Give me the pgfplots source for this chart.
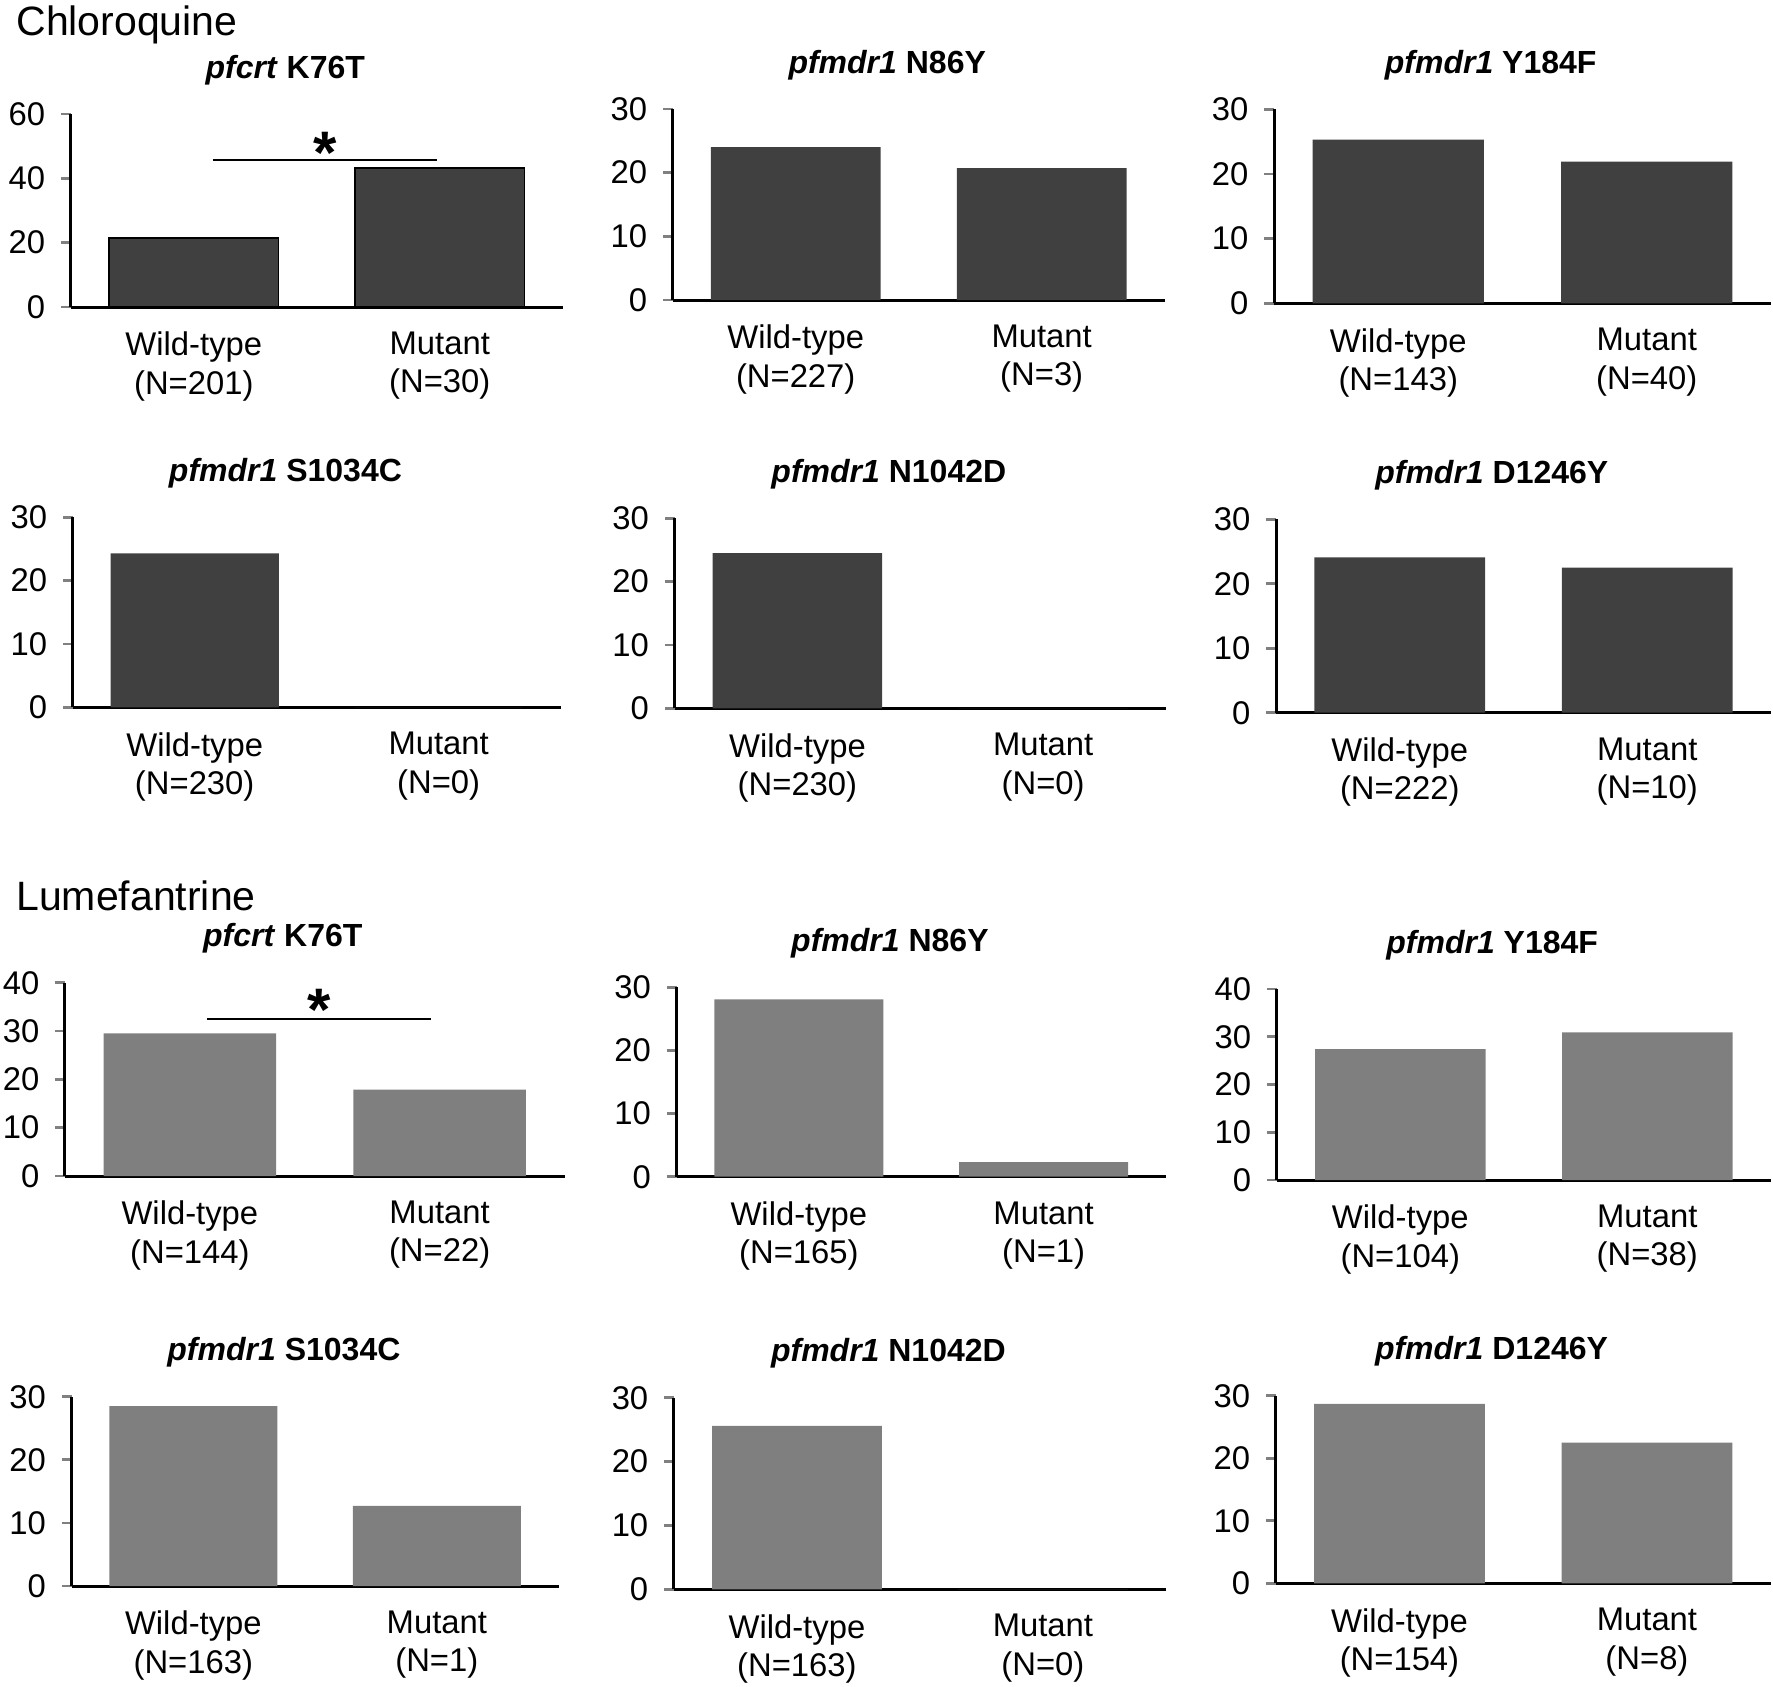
\documentclass[border=0pt]{standalone}
\usepackage{fontspec}
\setmainfont{Liberation Sans}
\usepackage{pgfplots}
\pgfplotsset{compat=1.18}
\definecolor{cqgray}{HTML}{404040}
\definecolor{lfgray}{HTML}{7F7F7F}

\pgfplotsset{
  panel/.style={
    scale only axis,
    anchor=south west,
    axis x line=bottom, axis y line=left,
    axis line style={-, line width=1.5pt},
    xmin=-0.5, xmax=1.5, ymin=0,
    xtick={0,1},
    xtick style={draw=none},
    ytick style={line width=1.4pt},
    tick align=outside,
    major tick length=4.8pt,
    ytick distance=10,
    ybar, bar width=0.69,
    tick label style={font=\fontsize{16.4}{19.2}\selectfont},
    yticklabel style={xshift=-4.5pt},
    /pgf/number format/assume math mode=true,
    xticklabel style={align=center, inner sep=0pt},
    xticklabel shift=7.5pt,
    clip=false,
    title style={at={(axis description cs:0.436,1)}, anchor=base, yshift=12pt,
      font=\bfseries\fontsize{16}{19}\selectfont},
  },
  cqbar/.style={fill=cqgray, draw=none},
  lfbar/.style={fill=lfgray, draw=none},
}

\begin{document}
\begin{tikzpicture}
\path[use as bounding box] (0,0) rectangle (886.5pt,-843.5pt);

\node[anchor=base west, inner sep=0pt, font=\fontsize{20.5}{24}\selectfont] at (8pt,-17.5pt) {Chloroquine};
\node[anchor=base west, inner sep=0pt, font=\fontsize{20.5}{24}\selectfont] at (8pt,-455pt) {Lumefantrine};

% ---------------- Chloroquine ----------------
\begin{axis}[panel, at={(35.4pt,-153.5pt)}, width=246pt, height=96.5pt,
  ymax=60, ytick distance=20, title={\textit{pfcrt} K76T},
  xticklabels={{Wild-type\\(N=201)},{Mutant\\(N=30)}}]
\addplot[cqbar, draw=black, line width=0.7pt] coordinates {(0,21.5) (1,43.2)};
\draw[line width=0.8pt] (axis cs:0.078,45.7) -- (axis cs:0.989,45.7);
\node[anchor=north, inner sep=0pt, font=\bfseries\fontsize{30}{30}\selectfont] at (axis cs:0.536,54.5) {*};
\end{axis}

\begin{axis}[panel, at={(336.35pt,-150pt)}, width=246pt, height=95.5pt,
  ymax=30, title={\textit{pfmdr1} N86Y},
  xticklabels={{Wild-type\\(N=227)},{Mutant\\(N=3)}}]
\addplot[cqbar] coordinates {(0,24.0) (1,20.7)};
\end{axis}

\begin{axis}[panel, at={(637pt,-151.65pt)}, width=248.5pt, height=97pt,
  ymax=30, title={\textit{pfmdr1} Y184F},
  xticklabels={{Wild-type\\(N=143)},{Mutant\\(N=40)}}]
\addplot[cqbar] coordinates {(0,25.3) (1,21.9)};
\end{axis}

\begin{axis}[panel, at={(36.35pt,-353.65pt)}, width=244pt, height=95pt,
  ymax=30, title={\textit{pfmdr1} S1034C},
  xticklabels={{Wild-type\\(N=230)},{Mutant\\(N=0)}}]
\addplot[cqbar] coordinates {(0,24.3) (1,0)};
\end{axis}

\begin{axis}[panel, at={(337.3pt,-354.15pt)}, width=245.7pt, height=95pt,
  ymax=30, title={\textit{pfmdr1} N1042D},
  xticklabels={{Wild-type\\(N=230)},{Mutant\\(N=0)}}]
\addplot[cqbar] coordinates {(0,24.5) (1,0)};
\end{axis}

\begin{axis}[panel, at={(638pt,-356.35pt)}, width=247.5pt, height=96.7pt,
  ymax=30, title={\textit{pfmdr1} D1246Y},
  xticklabels={{Wild-type\\(N=222)},{Mutant\\(N=10)}}]
\addplot[cqbar] coordinates {(0,24.1) (1,22.5)};
\end{axis}

% ---------------- Lumefantrine ----------------
\begin{axis}[panel, at={(32.5pt,-588pt)}, width=249.75pt, height=96.65pt,
  ymax=40, title={\textit{pfcrt} K76T},
  xticklabels={{Wild-type\\(N=144)},{Mutant\\(N=22)}}]
\addplot[lfbar] coordinates {(0,29.5) (1,17.9)};
\draw[line width=0.8pt] (axis cs:0.069,32.5) -- (axis cs:0.965,32.5);
\node[anchor=north, inner sep=0pt, font=\bfseries\fontsize{30}{30}\selectfont] at (axis cs:0.518,38.8) {*};
\end{axis}

\begin{axis}[panel, at={(338.25pt,-588.35pt)}, width=244.75pt, height=94.7pt,
  ymax=30, title={\textit{pfmdr1} N86Y},
  xticklabels={{Wild-type\\(N=165)},{Mutant\\(N=1)}}]
\addplot[lfbar] coordinates {(0,28.1) (1,2.3)};
\end{axis}

\begin{axis}[panel, at={(638.4pt,-590pt)}, width=247pt, height=95.5pt,
  ymax=40, title={\textit{pfmdr1} Y184F},
  xticklabels={{Wild-type\\(N=104)},{Mutant\\(N=38)}}]
\addplot[lfbar] coordinates {(0,27.4) (1,30.9)};
\end{axis}

\begin{axis}[panel, at={(35.8pt,-793pt)}, width=243.5pt, height=94.65pt,
  ymax=30, title={\textit{pfmdr1} S1034C},
  xticklabels={{Wild-type\\(N=163)},{Mutant\\(N=1)}}]
\addplot[lfbar] coordinates {(0,28.5) (1,12.7)};
\end{axis}

\begin{axis}[panel, at={(336.95pt,-794.65pt)}, width=246pt, height=95.8pt,
  ymax=30, title={\textit{pfmdr1} N1042D},
  xticklabels={{Wild-type\\(N=163)},{Mutant\\(N=0)}}]
\addplot[lfbar] coordinates {(0,25.6) (1,0)};
\end{axis}

\begin{axis}[panel, at={(637.85pt,-791.65pt)}, width=247.5pt, height=93.8pt,
  ymax=30, title={\textit{pfmdr1} D1246Y},
  xticklabels={{Wild-type\\(N=154)},{Mutant\\(N=8)}}]
\addplot[lfbar] coordinates {(0,28.7) (1,22.5)};
\end{axis}

\end{tikzpicture}
\end{document}
